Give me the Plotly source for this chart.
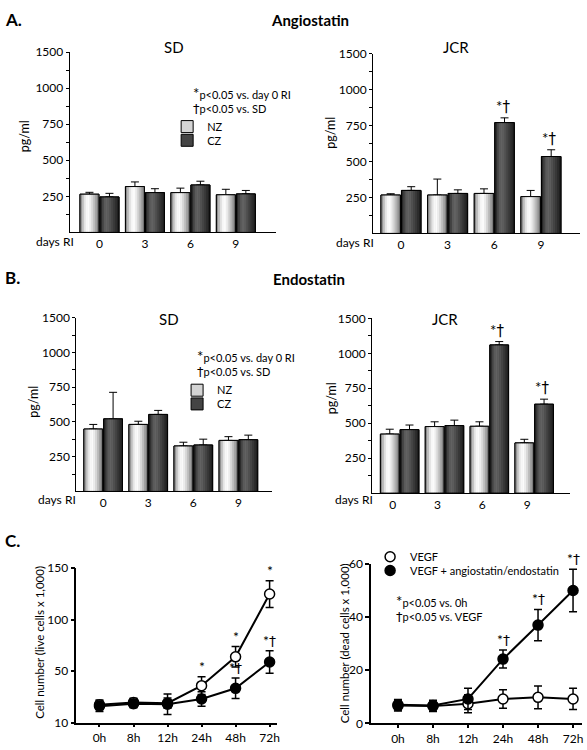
import plotly.graph_objects as go

# ---------------- data ----------------
days = ["0", "3", "6", "9"]
hours = ["0h", "8h", "12h", "24h", "48h", "72h"]

conc_tickvals = [250, 500, 750, 1000, 1250]
conc_ticktext = ["250", "500", "750", "1000", "1500"]
conc_minor = [125, 375, 625, 875, 1125]
live_tickvals = [0, 50, 100, 150]
live_ticktext = ["10", "50", "100", "150"]
dead_tickvals = [0, 20, 40, 60]

# Angiostatin (pg/ml)
ang_sd_nz = [265, 318, 276, 261]
ang_sd_nz_err = [13, 32, 31, 38]
ang_sd_cz = [246, 276, 329, 267]
ang_sd_cz_err = [25, 27, 26, 24]
ang_jcr_nz = [267, 267, 278, 256]
ang_jcr_nz_err = [9, 111, 32, 43]
ang_jcr_cz = [299, 278, 771, 535]
ang_jcr_cz_err = [26, 25, 33, 47]
ang_jcr_sig = [2, 3]

# Endostatin (pg/ml)
endo_sd_nz = [449, 482, 327, 367]
endo_sd_nz_err = [33, 23, 27, 27]
endo_sd_cz = [522, 554, 334, 372]
endo_sd_cz_err = [191, 29, 42, 33]
endo_jcr_nz = [422, 476, 478, 359]
endo_jcr_nz_err = [35, 34, 32, 26]
endo_jcr_cz = [454, 483, 1060, 636]
endo_jcr_cz_err = [33, 39, 24, 36]
endo_jcr_sig = [2, 3]

# Cell numbers (x 1,000)
live_vegf = [17.5, 19.7, 19, 36, 64, 125]
live_vegf_err = [4.5, 4, 5, 8.6, 10, 13]
live_ae = [16, 18.5, 18, 23, 33.4, 59]
live_ae_err = [5, 4, 10, 7, 10, 11]
live_vegf_sig = [3, 4, 5]
live_ae_sig = [4, 5]

dead_vegf = [6.7, 6.5, 7.4, 9.2, 9.8, 9.2]
dead_vegf_err = [2, 2, 3.4, 3.5, 4.3, 4]
dead_ae = [7.0, 6.7, 9.2, 24.2, 37, 50]
dead_ae_err = [2, 2, 4, 3.4, 5.9, 8]
dead_ae_sig = [3, 4, 5]

# ---------------- styles / helpers ----------------
W, H = 587, 750
FONT = "Lato, 'Open Sans', sans-serif"
DAGGER = "<span style='font-family:DejaVu Sans'>†</span>"
NZ_COLOR = "#d4d4d4"
CZ_COLOR = "#444444"
# cylinder-like shading, left -> right
NZ_GRAD = ["#8c8c8c", "#bdbdbd", "#e3e3e3", "#f7f7f7", "#fbfbfb",
           "#ececec", "#d6d6d6", "#bcbcbc", "#a0a0a0", "#7c7c7c"]
CZ_GRAD = ["#262626", "#434343", "#5a5a5a", "#626262", "#5c5c5c",
           "#505050", "#444444", "#383838", "#2c2c2c", "#1f1f1f"]
BARGAP = 0.12
BARGROUPGAP = 0.05
SLOT = (1 - BARGAP) / 2
BW = SLOT * (1 - BARGROUPGAP)


def fx(p):
    return p / W


def fy(p):
    return 1 - p / H


def ax(n, kind):
    return kind if n == 1 else f"{kind}{n}"


def axl(n, kind):
    return f"{kind}axis" if n == 1 else f"{kind}axis{n}"


fig = go.Figure()
annotations = []


def text_ann(text, x, y, size=11, xanchor="center", yanchor="middle", angle=0):
    annotations.append(dict(
        text=text, x=fx(x), y=fy(y), xref="paper", yref="paper",
        xanchor=xanchor, yanchor=yanchor, showarrow=False, textangle=angle,
        font=dict(family=FONT, size=size, color="black")))


def add_bar_panel(n, nz, nz_err, cz, cz_err, legends=(None, None)):
    xs = list(range(len(days)))
    series = [("NZ", nz, nz_err, NZ_COLOR, NZ_GRAD, -SLOT / 2),
              ("CZ", cz, cz_err, CZ_COLOR, CZ_GRAD, SLOT / 2)]
    for (name, vals, errs, color, grad, center), leg in zip(series, legends):
        left = center - BW / 2
        # base bar (legend key + error bar)
        fig.add_trace(go.Bar(
            x=xs, y=vals, name=name, xaxis=ax(n, "x"), yaxis=ax(n, "y"),
            width=BW, offset=left,
            marker=dict(color=color, line=dict(color="black", width=1)),
            error_y=dict(type="data", symmetric=False, array=errs,
                         arrayminus=[0] * len(errs), color="black",
                         thickness=1, width=4),
            showlegend=leg is not None, legend=leg if leg else "legend",
            hoverinfo="skip"))
        # shading strips
        sw = BW / len(grad)
        for k, c in enumerate(grad):
            fig.add_trace(go.Bar(
                x=xs, y=vals, xaxis=ax(n, "x"), yaxis=ax(n, "y"),
                width=sw * 1.15, offset=left + k * sw,
                marker=dict(color=c, line=dict(width=0)),
                showlegend=False, hoverinfo="skip"))
        # outline
        fig.add_trace(go.Bar(
            x=xs, y=vals, xaxis=ax(n, "x"), yaxis=ax(n, "y"),
            width=BW, offset=left,
            marker=dict(color="rgba(0,0,0,0)", line=dict(color="black", width=1)),
            showlegend=False, hoverinfo="skip"))


def bar_axes(n, xpx, ypx, xrange, shift=0):
    fig.layout[axl(n, "x")] = dict(
        domain=[fx(xpx[0]), fx(xpx[1])], range=xrange, anchor=ax(n, "y"),
        tickmode="array", tickvals=list(range(len(days))), ticktext=days,
        ticks="", showline=True, linecolor="black", linewidth=1,
        showgrid=False, zeroline=False, ticklabelshift=shift,
        tickfont=dict(family=FONT, size=12, color="black"))
    fig.layout[axl(n, "y")] = dict(
        domain=[fy(ypx[1]), fy(ypx[0])], range=[0, 1250], anchor=ax(n, "x"),
        tickmode="array", tickvals=conc_tickvals, ticktext=conc_ticktext,
        ticks="outside", ticklen=3, tickwidth=1, tickcolor="black",
        minor=dict(tickmode="array", tickvals=conc_minor, ticks="outside",
                   ticklen=3, tickwidth=1, tickcolor="black"),
        showline=True, linecolor="black", linewidth=1,
        showgrid=False, zeroline=False,
        tickfont=dict(family=FONT, size=12, color="black"))


def bar_sig(n, vals, errs, idxs):
    for i in idxs:
        annotations.append(dict(
            text="*" + DAGGER, x=i + SLOT / 2, y=vals[i] + errs[i], xref=ax(n, "x"),
            yref=ax(n, "y"), xanchor="center", yanchor="bottom", showarrow=False,
            yshift=0, xshift=-2, font=dict(family=FONT, size=15, color="black")))


# ---------------- panel A / B bars ----------------
add_bar_panel(1, ang_sd_nz, ang_sd_nz_err, ang_sd_cz, ang_sd_cz_err, ("legend", "legend2"))
add_bar_panel(2, ang_jcr_nz, ang_jcr_nz_err, ang_jcr_cz, ang_jcr_cz_err)
add_bar_panel(3, endo_sd_nz, endo_sd_nz_err, endo_sd_cz, endo_sd_cz_err, ("legend3", "legend4"))
add_bar_panel(4, endo_jcr_nz, endo_jcr_nz_err, endo_jcr_cz, endo_jcr_cz_err)

bar_axes(1, (70, 277), (45, 229), [-0.656, 3.874])
bar_axes(2, (375, 583), (46.7, 230), [-0.597, 3.838])
bar_axes(3, (76.7, 273), (316, 493.3), [-0.596, 3.737])
bar_axes(4, (374, 573), (316.7, 495), [-0.614, 3.80], shift=-7)

bar_sig(2, ang_jcr_cz, ang_jcr_cz_err, ang_jcr_sig)
bar_sig(4, endo_jcr_cz, endo_jcr_cz_err, endo_jcr_sig)


# ---------------- panel C lines ----------------
def add_line_panel(n, vegf, vegf_err, ae, ae_err, legends=(None, None)):
    xs = list(range(len(hours)))
    for vals, errs, fill, name, leg in [
            (vegf, vegf_err, "white", "VEGF", legends[0]),
            (ae, ae_err, "black", "VEGF + angiostatin/endostatin", legends[1])]:
        fig.add_trace(go.Scatter(
            x=xs, y=vals, mode="lines", line=dict(color="black", width=2),
            xaxis=ax(n, "x"), yaxis=ax(n, "y"), showlegend=False, hoverinfo="skip"))
        fig.add_trace(go.Scatter(
            x=xs, y=vals, mode="markers", name=name,
            marker=dict(symbol="circle", size=10, color=fill,
                        line=dict(color="black", width=1.5)),
            error_y=dict(type="data", array=errs, color="black", thickness=1.5, width=4),
            xaxis=ax(n, "x"), yaxis=ax(n, "y"),
            showlegend=leg is not None, legend=leg if leg else "legend",
            hoverinfo="skip"))


def line_axes(n, xpx, ypx, xrange, yrange, tickvals, ticktext):
    fig.layout[axl(n, "x")] = dict(
        domain=[fx(xpx[0]), fx(xpx[1])], range=xrange, anchor=ax(n, "y"),
        tickmode="array", tickvals=list(range(len(hours))), ticktext=hours,
        ticks="outside", ticklen=3, tickwidth=1.5, tickcolor="black",
        showline=True, linecolor="black", linewidth=1.5,
        showgrid=False, zeroline=False,
        tickfont=dict(family=FONT, size=12, color="black"))
    fig.layout[axl(n, "y")] = dict(
        domain=[fy(ypx[1]), fy(ypx[0])], range=yrange, anchor=ax(n, "x"),
        tickmode="array", tickvals=tickvals, ticktext=ticktext,
        ticks="outside", ticklen=4, tickwidth=1.5, tickcolor="black",
        showline=True, linecolor="black", linewidth=1.5,
        showgrid=False, zeroline=False,
        tickfont=dict(family=FONT, size=12, color="black"))


add_line_panel(5, live_vegf, live_vegf_err, live_ae, live_ae_err)
add_line_panel(6, dead_vegf, dead_vegf_err, dead_ae, dead_ae_err, ("legend5", "legend6"))

line_axes(5, (76.7, 278), (571.7, 729.3), [-0.681, 5.205], [0, 150],
          live_tickvals, live_ticktext)
line_axes(6, (373, 585), (567.3, 730), [-0.767, 5.256], [0, 60],
          dead_tickvals, [str(v) for v in dead_tickvals])


def line_sig(n, vals, errs, idxs, text):
    for i in idxs:
        annotations.append(dict(
            text=text, x=i, y=vals[i] + errs[i], xref=ax(n, "x"), yref=ax(n, "y"),
            xanchor="center", yanchor="bottom", showarrow=False, yshift=0,
            font=dict(family=FONT, size=14, color="black")))


line_sig(5, live_vegf, live_vegf_err, live_vegf_sig, "*")
line_sig(5, live_ae, live_ae_err, live_ae_sig, "*" + DAGGER)
line_sig(6, dead_ae, dead_ae_err, dead_ae_sig, "*" + DAGGER)

# ---------------- text ----------------
text_ann("<b>A.</b>", 3, 12, size=17, xanchor="left")
text_ann("<b>Angiostatin</b>", 312, 12, size=15)
text_ann("<b>B.</b>", 3, 275, size=17, xanchor="left")
text_ann("<b>Endostatin</b>", 311, 277, size=15)
text_ann("<b>C.</b>", 3, 543, size=17, xanchor="left")

text_ann("SD", 175, 40, size=15)
text_ann("JCR", 458, 40, size=15)
text_ann("SD", 170, 317, size=15)
text_ann("JCR", 447, 317, size=15)

for x, y in [(55, 238), (357, 239), (57, 502), (356, 502)]:
    text_ann("days RI", x, y, size=12)

for x, y in [(25, 131), (332, 127), (34, 402), (333, 398)]:
    text_ann("pg/ml", x, y, size=12.5, angle=-90)
text_ann("Cell number (live cells x 1,000)", 39, 647, size=11.5, angle=-90)
text_ann("Cell number (dead cells x 1,000)", 346, 648, size=11.5, angle=-90)

STAR = "<span style='font-size:15px'>*</span>"
DAG = "<span style='font-size:13px;font-family:DejaVu Sans'>†</span>"
for x, y, t in [(192, 94, STAR + "p&lt;0.05 vs. day 0 RI<br>" + DAG + "p&lt;0.05 vs. SD"),
                (196, 362, STAR + "p&lt;0.05 vs. day 0 RI<br>" + DAG + "p&lt;0.05 vs. SD"),
                (396, 612, STAR + "p&lt;0.05 vs. 0h<br>" + DAG + "p&lt;0.05 vs. VEGF")]:
    annotations.append(dict(
        text=t, x=fx(x), y=fy(y), xref="paper", yref="paper", align="left",
        xanchor="left", yanchor="middle", showarrow=False,
        font=dict(family=FONT, size=11, color="black")))


# ---------------- legends ----------------
def leg(x, y):
    return dict(x=fx(x), y=fy(y), xanchor="left", yanchor="middle",
                bgcolor="rgba(0,0,0,0)", borderwidth=0, itemclick=False,
                font=dict(family=FONT, size=11, color="black"))


fig.update_layout(
    width=W, height=H, autosize=False,
    margin=dict(l=0, r=0, t=0, b=0),
    paper_bgcolor="white", plot_bgcolor="white",
    barmode="overlay", bargap=BARGAP, bargroupgap=BARGROUPGAP,
    font=dict(family=FONT, color="black"),
    annotations=annotations,
    legend=leg(168, 121), legend2=leg(168, 135),
    legend3=leg(178, 390), legend4=leg(178, 404),
    legend5=leg(372, 560), legend6=leg(372, 574),
)

fig.write_html("out.html", config={"displayModeBar": False},
               post_script="document.body.style.margin='0';")
